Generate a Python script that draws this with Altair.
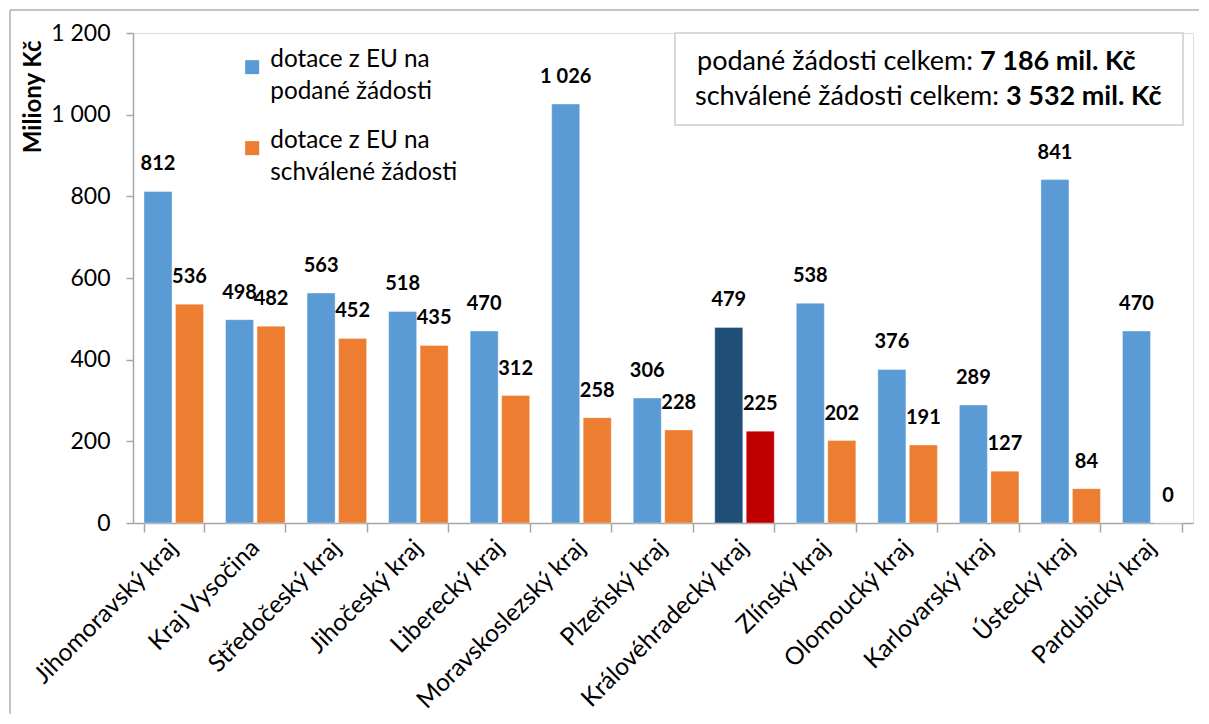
import altair as alt
import pandas as pd

categories = ["Jihomoravský kraj", "Kraj Vysočina", "Středočeský kraj", "Jihočeský kraj",
              "Liberecký kraj", "Moravskoslezský kraj", "Plzeňský kraj", "Královéhradecký kraj",
              "Zlínský kraj", "Olomoucký kraj", "Karlovarský kraj", "Ústecký kraj", "Pardubický kraj"]
podane = [812, 498, 563, 518, 470, 1026, 306, 479, 538, 376, 289, 841, 470]
schvalene = [536, 482, 452, 435, 312, 258, 228, 225, 202, 191, 127, 84, 0]
series_names = ["dotace z EU na podané žádosti", "dotace z EU na schválené žádosti"]
highlight = "Královéhradecký kraj"
colors = ["#5B9BD5", "#ED7D31"]
highlight_colors = ["#1F4E79", "#C00000"]
y_ticks = [0, 200, 400, 600, 800, 1000, 1200]
axis_title = "Miliony Kč"
box_prefix = ["podané žádosti celkem: ", "schválené žádosti celkem: "]
box_suffix = " mil. Kč"

FONT = "Lato"
GRAY = "#A6A6A6"
W, H = 1060, 490

rows = []
for i, c in enumerate(categories):
    for s, vals in zip(series_names, [podane, schvalene]):
        key = s + (" *" if c == highlight else "")
        rows.append({"kraj": c, "serie": s, "hodnota": vals[i], "klic": key})
df = pd.DataFrame(rows)

fmt = "replace(format({}, ','), ',', ' ')"

base = alt.Chart(df).transform_calculate(popis=fmt.format("datum.hodnota"))

x_enc = alt.X("kraj:N", sort=categories, title=None,
              scale=alt.Scale(paddingInner=0.27, paddingOuter=0.135),
              axis=alt.Axis(labelAngle=-45, labelAlign="right", labelBaseline="middle",
                            labelFontSize=24.5, labelFont=FONT, labelColor="black",
                            labelPadding=12, labelLimit=400, tickBand="extent",
                            tickSize=9, tickColor=GRAY, domainColor=GRAY,
                            domainWidth=1.5, tickWidth=1.5))
xoff_enc = alt.XOffset("serie:N", sort=series_names, scale=alt.Scale(paddingInner=0.11))
y_enc = alt.Y("hodnota:Q", title=axis_title,
              scale=alt.Scale(domain=[0, 1200], nice=False),
              axis=alt.Axis(values=y_ticks, labelExpr=fmt.format("datum.value"),
                            labelFontSize=23, labelFont=FONT, labelColor="black",
                            labelPadding=16, tickSize=7, tickColor=GRAY, domainColor=GRAY,
                            domainWidth=1.5, tickWidth=1.5, grid=False,
                            titleFont=FONT, titleFontSize=24, titleFontWeight="bold",
                            titleColor="black", titleX=-100, titleY=7, titleAlign="right",
                            titleAngle=270, titleBaseline="middle"))

color_domain = series_names + [s + " *" for s in series_names]
color_range = colors + highlight_colors

bars = base.mark_bar(stroke="white", strokeWidth=0.6, strokeOpacity=0.6).encode(
    x=x_enc, xOffset=xoff_enc, y=y_enc,
    color=alt.Color("klic:N", scale=alt.Scale(domain=color_domain, range=color_range),
                    legend=alt.Legend(orient="none", legendX=107, legendY=22,
                                      values=series_names, title=None,
                                      symbolType="square", symbolSize=196,
                                      symbolStrokeWidth=0, symbolOpacity=1,
                                      labelFont=FONT, labelFontSize=24.3, labelColor="black",
                                      labelExpr="split(replace(datum.label, ' na ', ' na|'), '|')",
                                      labelBaseline="alphabetic", labelLimit=400,
                                      labelOffset=6, rowPadding=24, padding=0)),
)

labels = base.mark_text(baseline="bottom", dy=-17, fontSize=20, fontWeight="bold",
                        font=FONT, color="black").encode(
    x=alt.X("kraj:N", sort=categories),
    xOffset=alt.XOffset("serie:N", sort=series_names),
    y=alt.Y("hodnota:Q"),
    text="popis:N",
)

# outer chart frame (only its top and left edges are visible)
one = alt.Chart(df).transform_aggregate(n="count()")
frame_top = one.mark_rule(stroke="#B0B0B0", strokeWidth=1.5).encode(
    x=alt.value(-123), x2=alt.value(1200), y=alt.value(-23))
frame_left = one.mark_rule(stroke="#B0B0B0", strokeWidth=1.5).encode(
    x=alt.value(-123), y=alt.value(-23), y2=alt.value(800))

# summary box
box = one.mark_rect(fill="white", stroke="#D9D9D9", strokeWidth=2).encode(
    x=alt.value(542), x2=alt.value(1050), y=alt.value(0), y2=alt.value(92))

totals = base.transform_aggregate(celkem="sum(hodnota)", groupby=["serie"]).transform_calculate(
    txt=fmt.format("datum.celkem") + " + '" + box_suffix + "'")

box_layers = []
line_y = [29, 64]
split_x = [840, 866]
for i, s in enumerate(series_names):
    t = totals.transform_filter(alt.datum.serie == s)
    box_layers.append(t.mark_text(align="right", baseline="middle", fontSize=27, font=FONT,
                                  color="black").encode(
        x=alt.value(split_x[i]), y=alt.value(line_y[i]), text=alt.value(box_prefix[i].rstrip() + " ")))
    box_layers.append(t.mark_text(align="left", baseline="middle", fontSize=27, font=FONT,
                                  fontWeight="bold", color="black").encode(
        x=alt.value(split_x[i] + 7), y=alt.value(line_y[i]), text="txt:N"))

chart = alt.layer(frame_top, frame_left, box, bars, labels, *box_layers).properties(
    width=W, height=H,
    padding={"left": 125, "top": 25, "right": 6, "bottom": 191},
    autosize=alt.AutoSizeParams(type="none"),
).configure_view(stroke=None).configure(
    font=FONT, style={"guide-label": {"lineHeight": 32}})

chart.save("out.html", embed_options={"renderer": "svg", "actions": False})
